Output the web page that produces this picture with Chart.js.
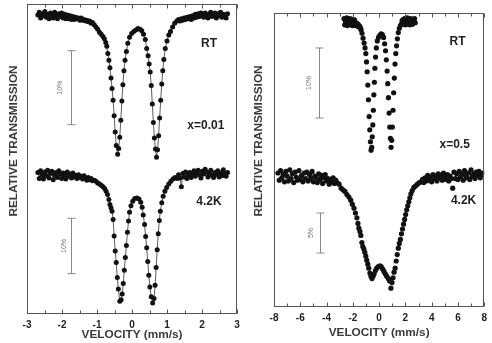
<!DOCTYPE html>
<html lang="en">
<head>
<meta charset="UTF-8">
<title>Mossbauer spectra</title>
<script src="https://cdn.jsdelivr.net/npm/chart.js@4.4.1/dist/chart.umd.min.js"></script>
<style>
    body { margin: 0; background: #fff; }
    .panel { position: absolute; top: 0; width: 246px; height: 343px; }
    #left { left: 0; }
    #right { left: 246px; }
</style>
</head>
<body>
<div class="panel" id="left"><canvas id="chartLeft" width="246" height="343"></canvas></div>
<div class="panel" id="right"><canvas id="chartRight" width="246" height="343"></canvas></div>
<script>
// x = 0.01, room temperature (velocity mm/s, transmission %)
const rt01V = [-2.69,-2.65,-2.61,-2.57,-2.53,-2.49,-2.45,-2.41,-2.37,-2.33,-2.29,-2.25,-2.21,-2.17,-2.13,-2.09,-2.05,-2.01,-1.97,-1.93,-1.89,-1.85,-1.81,-1.77,-1.73,-1.69,-1.65,-1.61,-1.57,-1.53,-1.49,-1.45,-1.41,-1.37,-1.33,-1.29,-1.25,-1.21,-1.17,-1.13,
    -1.08,-1.03,-0.98,-0.93,-0.88,-0.83,-0.79,-0.75,-0.72,-0.69,-0.66,-0.63,-0.60,-0.57,-0.54,-0.51,-0.48,-0.45,-0.41,
    -0.38,-0.35,-0.32,-0.29,-0.26,-0.23,-0.20,-0.16,-0.12,-0.07,-0.01,0.05,0.11,0.17,0.23,0.28,0.33,0.38,0.42,0.46,0.49,0.52,0.55,0.58,0.61,0.64,0.67,0.70,
    0.73,0.76,0.79,0.82,0.85,0.88,0.91,0.95,1.00,1.05,1.10,1.16,1.22,1.28,
    1.33,1.37,1.41,1.45,1.49,1.53,1.57,1.61,1.65,1.69,1.73,1.77,1.81,1.85,1.89,1.93,1.97,2.01,2.05,2.09,2.13,2.17,2.21,2.25,2.29,2.33,2.37,2.41,2.45,2.49,2.53,2.57,2.61,2.65,2.69,2.73];
const rt01T = [100.1,100.5,99.7,100.3,100.0,100.6,99.8,100.2,99.6,100.4,100.1,99.7,100.5,100.0,99.6,100.3,99.9,100.4,99.7,100.2,99.6,100.1,99.6,100.0,99.5,99.9,99.5,99.8,99.6,99.7,99.4,99.7,99.4,99.5,99.3,99.4,99.2,99.3,99.0,99.1,
    98.8,98.5,98.2,97.8,97.5,97.2,96.9,96.4,95.9,94.9,94.0,93.0,91.6,90.2,88.6,86.5,84.3,82.5,81.3,
    82.1,83.6,85.9,88.5,90.7,92.6,94.0,95.2,96.3,97.1,97.6,97.9,98.1,98.3,98.2,98.0,97.5,96.8,95.6,94.6,93.5,92.4,90.6,88.1,85.6,83.5,82.0,80.9,
    81.9,83.8,86.2,88.6,90.8,92.6,94.1,95.6,96.6,97.4,97.9,98.5,99.0,99.3,
    99.5,99.3,99.6,99.4,99.7,99.5,99.8,99.6,99.9,99.5,100.0,99.7,100.2,99.8,100.3,99.9,100.4,100.0,99.8,100.4,100.1,99.7,100.3,100.5,99.9,100.1,100.4,99.7,100.3,100.0,100.5,99.8,100.2,100.1,99.7,100.3];

// x = 0.01, 4.2 K
const lt01V = [-2.69,-2.65,-2.61,-2.57,-2.53,-2.49,-2.45,-2.41,-2.37,-2.33,-2.29,-2.25,-2.21,-2.17,-2.13,-2.09,-2.05,-2.01,-1.97,-1.93,-1.89,-1.85,-1.81,-1.77,-1.73,-1.69,-1.65,-1.61,-1.57,-1.53,-1.49,-1.45,-1.41,-1.37,-1.33,-1.29,-1.25,-1.21,-1.17,-1.13,
    -1.08,-1.03,-0.98,-0.93,-0.88,-0.83,-0.78,-0.74,-0.70,-0.66,-0.63,-0.60,-0.57,-0.54,-0.51,-0.48,-0.45,-0.42,-0.39,-0.35,
    -0.31,-0.28,-0.25,-0.22,-0.19,-0.16,-0.13,-0.10,-0.07,-0.03,0.02,0.08,0.14,0.20,0.25,0.29,0.32,0.36,0.39,0.42,0.45,0.48,0.51,0.55,0.59,
    0.63,0.66,0.69,0.72,0.75,0.78,0.81,0.85,0.89,0.94,0.99,1.05,1.11,1.17,1.23,1.29,
    1.33,1.37,1.41,1.45,1.49,1.53,1.57,1.61,1.65,1.69,1.73,1.77,1.81,1.85,1.89,1.93,1.97,2.01,2.05,2.09,2.13,2.17,2.21,2.25,2.29,2.33,2.37,2.41,2.45,2.49,2.53,2.57,2.61,2.65,2.69,2.73];
const lt01T = [100.6,99.5,100.9,100.2,99.4,100.7,100.0,101.0,99.6,100.4,100.8,99.3,100.1,100.6,99.7,100.9,100.3,99.5,100.5,100.0,99.4,100.7,99.9,100.3,99.6,100.5,99.8,100.1,99.5,100.2,99.7,99.9,99.4,100.0,99.6,99.2,99.7,99.3,99.5,99.1,
    99.2,99.0,98.7,98.5,98.3,98.0,97.7,97.2,96.6,95.7,94.8,94.2,93.6,92.1,89.1,86.4,84.3,81.6,79.5,77.3,
    77.6,78.6,80.5,82.9,85.2,87.4,89.8,91.8,93.4,94.6,95.4,95.9,96.0,95.8,95.2,94.3,92.9,91.2,89.0,87.0,84.5,82.0,79.9,78.1,77.0,
    77.8,80.2,83.4,86.6,89.5,91.9,93.6,95.1,96.3,97.2,97.9,98.5,99.0,99.4,99.7,99.5,
    100.2,99.6,98.0,100.4,99.8,100.7,99.5,100.1,100.6,99.7,100.3,100.9,99.9,100.5,101.0,100.2,99.6,100.8,100.3,101.2,100.7,99.8,100.4,101.0,100.1,99.7,100.6,100.2,100.9,99.8,100.5,100.0,101.1,100.3,99.9,100.6];

// x = 0.5, room temperature
const rt05V = [-2.67,-2.62,-2.57,-2.52,-2.47,-2.42,-2.37,-2.32,-2.27,-2.22,-2.17,-2.12,-2.07,-2.02,-1.97,-1.92,-1.87,-1.82,-1.77,-1.72,-1.67,-1.62,-1.57,-1.52,-1.47,-1.42,
    -1.37,-1.30,-1.22,-1.14,-1.07,-1.01,-0.96,-0.91,-0.86,-0.81,-0.76,-0.71,-0.66,-0.61,
    -0.56,-0.52,-0.48,-0.44,-0.40,-0.36,-0.32,-0.27,-0.21,-0.14,-0.05,0.05,0.15,0.25,0.34,0.42,0.49,0.55,0.61,0.66,0.71,0.76,0.81,0.86,0.91,
    0.96,1.01,1.06,1.11,1.16,1.21,1.27,1.33,1.39,1.46,1.54,1.62,
    1.70,1.75,1.80,1.85,1.90,1.95,2.00,2.05,2.10,2.15,2.20,2.25,2.30,2.35,2.40,2.45,2.50,2.55,2.60,2.65,2.70,2.75];
const rt05T = [100.5,99.6,100.2,99.9,100.6,99.5,100.1,100.4,99.7,100.5,99.6,100.0,100.4,99.5,100.1,99.8,100.3,99.5,99.9,99.6,99.8,99.4,99.6,99.3,99.4,99.1,
    98.9,98.4,97.7,97.0,96.3,95.5,94.3,92.9,91.0,88.9,86.5,84.6,82.9,81.7,
    82.1,83.6,85.3,87.4,89.6,91.4,93.4,95.0,96.3,97.3,97.8,98.1,98.3,98.2,97.8,96.9,95.9,94.6,93.0,91.2,89.2,87.0,85.0,83.4,82.1,
    83.1,85.0,87.4,89.9,92.0,94.0,95.5,96.6,97.6,98.5,99.1,99.5,
    99.7,100.2,99.7,100.4,99.8,100.5,99.6,100.2,100.0,100.6,99.7,100.3,100.1,99.6,100.5,100.0,100.2,99.7,100.4,100.1,100.5,99.9];

// x = 0.5, 4.2 K
const lt05V = [-7.7,-7.6,-7.5,-7.4,-7.3,-7.2,-7.1,-7.0,-6.9,-6.8,-6.7,-6.6,-6.5,-6.4,-6.3,-6.2,-6.1,-6.0,-5.9,-5.8,-5.7,-5.6,-5.5,-5.4,-5.3,-5.2,-5.1,-5.0,-4.9,-4.8,-4.7,-4.6,-4.5,-4.4,-4.3,-4.2,-4.1,-4.0,-3.9,-3.8,-3.7,-3.6,-3.5,-3.4,-3.3,-3.2,
    -3.05,-2.89,-2.75,-2.60,-2.45,-2.30,-2.16,-2.04,-1.91,-1.80,-1.69,-1.61,-1.54,-1.46,-1.39,-1.31,-1.24,-1.16,-1.09,-1.01,-0.94,-0.86,-0.79,-0.70,-0.62,-0.54,
    -0.46,-0.38,-0.28,-0.18,-0.06,0.06,0.16,0.27,0.37,0.47,0.58,0.70,0.80,0.90,
    0.98,1.06,1.14,1.22,1.30,1.38,1.46,1.54,1.62,1.70,1.78,1.86,1.94,2.02,2.10,2.18,2.26,2.34,2.42,2.52,2.64,2.78,2.92,3.06,
    3.2,3.3,3.4,3.5,3.6,3.7,3.8,3.9,4.0,4.1,4.2,4.3,4.4,4.5,4.6,4.7,4.8,4.9,5.0,5.1,5.2,5.3,5.4,5.5,5.6,5.7,5.8,5.9,6.0,6.1,6.2,6.3,6.4,6.5,6.6,6.7,6.8,6.9,7.0,7.1,7.2,7.3,7.4,7.5,7.6,7.7,7.8,7.9];
const lt05T = [100.5,99.6,100.8,99.9,100.3,99.4,100.7,100.1,99.5,100.9,99.8,100.4,99.3,100.6,100.0,99.6,100.8,99.7,100.2,99.4,100.5,99.8,100.6,99.5,100.3,99.8,100.7,99.4,100.1,99.9,99.3,100.4,99.7,100.2,99.2,99.9,100.3,99.5,99.8,99.1,99.7,99.4,99.9,99.2,99.6,99.3,
    99.1,98.6,98.4,98.2,97.8,97.5,97.1,96.6,96.1,95.5,94.9,94.2,93.6,93.2,92.7,91.8,91.3,91.0,90.6,90.1,89.6,89.1,88.6,88.0,87.6,87.3,
    87.6,87.9,88.3,88.6,88.8,88.9,88.8,88.5,88.2,87.9,87.6,87.3,87.0,86.1,
    86.8,87.4,88.1,88.6,89.5,90.3,91.1,91.7,92.2,92.9,93.5,94.1,94.7,95.3,95.9,96.4,96.9,97.4,97.9,98.3,98.7,98.9,99.1,99.3,
    99.4,99.7,99.3,99.9,99.5,100.2,99.6,100.0,99.4,100.3,99.8,100.1,99.5,100.4,99.9,100.2,99.6,100.5,100.0,99.7,100.3,99.5,100.1,99.8,98.6,100.6,99.8,100.4,99.7,100.7,100.0,100.3,99.6,100.8,100.2,99.9,100.5,99.7,100.9,100.1,100.4,99.8,100.6,100.2,100.7,99.9,100.3,100.5];

const FONT = '"Liberation Sans", Arial, sans-serif';
const pts = (vs, ts) => vs.map((v, i) => ({ x: v, y: ts[i] }));

// frame, inward ticks, scale bars and in-plot labels
const panelDecor = {
    id: 'panelDecor',
    afterDraw(chart, args, o) {
        const { ctx, chartArea: a, scales } = chart;
        const xs = scales.x;
        const L = Math.round(a.left) + 0.5, R = Math.round(a.right) - 0.5;
        const T = Math.round(a.top) + 0.5, B = Math.round(a.bottom) - 0.5;
        ctx.save();
        ctx.strokeStyle = '#555';
        ctx.lineWidth = 1;
        ctx.strokeRect(L, T, R - L, B - T);

        ctx.beginPath();
        const n = Math.round((xs.max - xs.min) / o.minorStep);
        for (let i = 0; i <= n; i++) {
            const px = Math.round(xs.getPixelForValue(xs.min + i * o.minorStep)) + 0.5;
            const len = i % 2 === 0 ? 4 : 3;
            ctx.moveTo(px, B); ctx.lineTo(px, B - len);
            ctx.moveTo(px, T); ctx.lineTo(px, T + len);
        }
        ctx.stroke();

        // scale bars
        ctx.strokeStyle = '#888';
        ctx.fillStyle = '#777';
        ctx.font = '7px ' + FONT;
        ctx.textAlign = 'center';
        ctx.textBaseline = 'middle';
        o.bars.forEach(b => {
            const ys = scales[b.axis];
            const px = Math.round(xs.getPixelForValue(b.x)) + 0.5;
            const y1 = ys.getPixelForValue(b.from), y2 = ys.getPixelForValue(b.to);
            ctx.beginPath();
            ctx.moveTo(px, y1); ctx.lineTo(px, y2);
            ctx.moveTo(px - 4, y1); ctx.lineTo(px + 4, y1);
            ctx.moveTo(px - 4, y2); ctx.lineTo(px + 4, y2);
            ctx.stroke();
            ctx.save();
            ctx.translate(xs.getPixelForValue(b.textX), (y1 + y2) / 2);
            ctx.rotate(-Math.PI / 2);
            ctx.fillText(b.text, 0, 0);
            ctx.restore();
        });

        // RT / x= / 4.2K labels
        ctx.fillStyle = '#222';
        ctx.font = 'bold 12px ' + FONT;
        o.notes.forEach(t => {
            ctx.fillText(t.text, xs.getPixelForValue(t.x), scales[t.axis].getPixelForValue(t.y));
        });

        // y title
        ctx.fillStyle = '#3a3a3a';
        ctx.font = 'bold 11.8px ' + FONT;
        ctx.save();
        ctx.translate(o.yTitle.x, o.yTitle.y);
        ctx.rotate(-Math.PI / 2);
        ctx.fillText('RELATIVE TRANSMISSION', 0, 0);
        ctx.restore();
        ctx.restore();
    }
};

function xAxis(min, max, step, height, titlePad) {
    return {
        type: 'linear', min: min, max: max,
        grid: { display: false, drawTicks: false },
        border: { display: false },
        ticks: { stepSize: step, padding: 5, color: '#222', font: { family: FONT, size: 10, weight: 'bold' } },
        title: { display: true, text: 'VELOCITY (mm/s)', color: '#3a3a3a', padding: { top: 0, bottom: titlePad },
                 font: { family: FONT, size: 11.8, weight: 'bold' } },
        afterFit: s => { s.height = height; }
    };
}

function spectrum(data, axis, line, r) {
    return {
        data: data, yAxisID: axis, showLine: line,
        borderColor: '#333', borderWidth: 0.8,
        pointRadius: r, pointBackgroundColor: '#111', pointBorderWidth: 0
    };
}

new Chart(document.getElementById('chartLeft'), {
    type: 'scatter',
    data: {
        datasets: [
            spectrum(pts(rt01V, rt01T), 'yA', true, 2.5),
            spectrum(pts(lt01V, lt01T), 'yB', true, 2.5)
        ]
    },
    options: {
        responsive: false,
        animation: false,
        layout: { padding: { left: 27, right: 9, top: 0, bottom: 0 } },
        scales: {
            x: xAxis(-3, 3, 1, 29, 1),
            yA: { type: 'linear', display: false, min: 59.73, max: 101.6 },
            yB: { type: 'linear', display: false, min: 75.0, max: 131.07 }
        },
        plugins: {
            legend: { display: false },
            tooltip: { enabled: false },
            panelDecor: {
                minorStep: 0.5,
                yTitle: { x: 14, y: 141 },
                bars: [
                    { axis: 'yA', x: -1.74, from: 95.3, to: 85.3, textX: -2.06, text: '10%' },
                    { axis: 'yB', x: -1.74, from: 92.3, to: 82.3, textX: -1.93, text: '10%' }
                ],
                notes: [
                    { axis: 'yA', x: 2.2, y: 96.27, text: 'RT' },
                    { axis: 'yA', x: 2.11, y: 85.2, text: 'x=0.01' },
                    { axis: 'yB', x: 2.2, y: 95.36, text: '4.2K' }
                ]
            }
        }
    },
    plugins: [panelDecor]
});

new Chart(document.getElementById('chartRight'), {
    type: 'scatter',
    data: {
        datasets: [
            spectrum(pts(rt05V, rt05T), 'yC', false, 2.6),
            spectrum(pts(lt05V, lt05T), 'yD', false, 2.6)
        ]
    },
    options: {
        responsive: false,
        animation: false,
        layout: { padding: { left: 28, right: 5, top: 13, bottom: 0 } },
        scales: {
            x: xAxis(-8, 8, 2, 36, 3),
            yC: { type: 'linear', display: false, min: 59.29, max: 101.29 },
            yD: { type: 'linear', display: false, min: 83.75, max: 120.5 }
        },
        plugins: {
            legend: { display: false },
            tooltip: { enabled: false },
            panelDecor: {
                minorStep: 1,
                yTitle: { x: 13, y: 141 },
                bars: [
                    { axis: 'yC', x: -4.54, from: 96.29, to: 86.29, textX: -5.3, text: '10%' },
                    { axis: 'yD', x: -4.47, from: 95.5, to: 90.5, textX: -5.15, text: '5%' }
                ],
                notes: [
                    { axis: 'yC', x: 5.97, y: 97.14, text: 'RT' },
                    { axis: 'yC', x: 5.75, y: 82.43, text: 'x=0.5' },
                    { axis: 'yD', x: 6.43, y: 97.0, text: '4.2K' }
                ]
            }
        }
    },
    plugins: [panelDecor]
});
</script>
</body>
</html>
